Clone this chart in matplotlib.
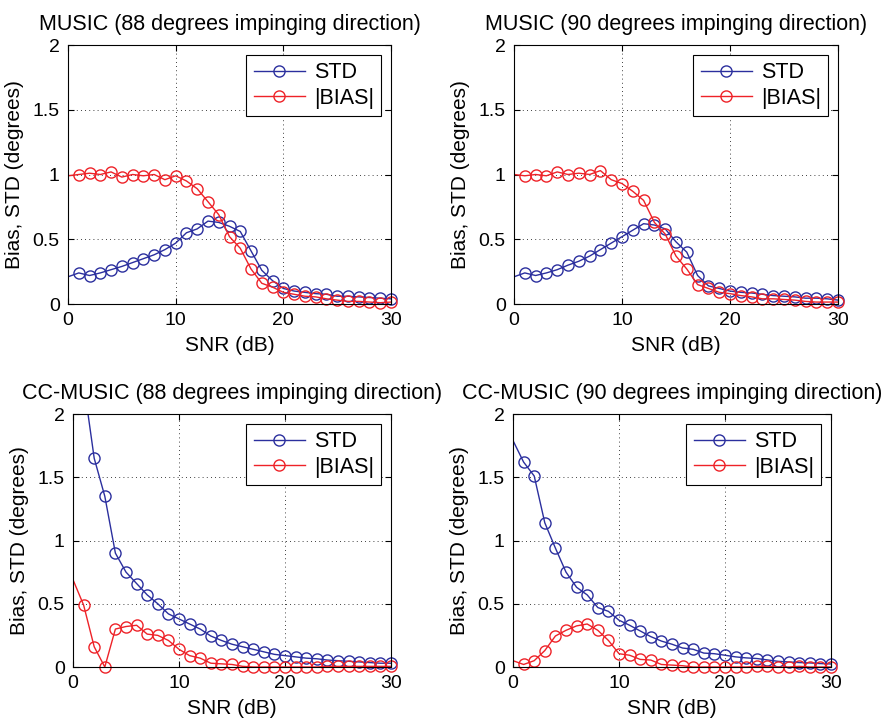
import matplotlib
matplotlib.use("Agg")
import matplotlib.pyplot as plt
import numpy as np

plt.rcParams['font.family'] = ['Liberation Sans', 'DejaVu Sans']

snr = list(range(0, 31))

titles = ["MUSIC (88 degrees impinging direction)",
          "MUSIC (90 degrees impinging direction)",
          "CC-MUSIC (88 degrees impinging direction)",
          "CC-MUSIC (90 degrees impinging direction)"]

std_music88 = [0.21, 0.24, 0.22, 0.24, 0.265, 0.29, 0.32, 0.35, 0.38, 0.42, 0.47,
               0.55, 0.58, 0.64, 0.63, 0.60, 0.56, 0.41, 0.26, 0.18, 0.12,
               0.10, 0.09, 0.08, 0.075, 0.06, 0.06, 0.055, 0.05, 0.045, 0.04]
bias_music88 = [0.99, 1.0, 1.01, 1.0, 1.02, 0.98, 1.0, 0.99, 1.0, 0.96, 0.99,
                0.95, 0.89, 0.79, 0.69, 0.52, 0.43, 0.27, 0.16, 0.13, 0.09,
                0.075, 0.06, 0.055, 0.04, 0.03, 0.02, 0.02, 0.015, 0.01, 0.015]

std_music90 = [0.21, 0.24, 0.22, 0.24, 0.265, 0.30, 0.33, 0.37, 0.42, 0.47, 0.52,
               0.57, 0.62, 0.61, 0.58, 0.48, 0.40, 0.22, 0.14, 0.12, 0.10,
               0.09, 0.085, 0.075, 0.065, 0.06, 0.055, 0.045, 0.045, 0.04, 0.03]
bias_music90 = [1.0, 0.99, 1.0, 0.99, 1.02, 1.0, 1.01, 1.0, 1.03, 0.96, 0.93,
                0.87, 0.80, 0.63, 0.54, 0.37, 0.27, 0.15, 0.12, 0.09, 0.08,
                0.065, 0.055, 0.04, 0.04, 0.035, 0.03, 0.02, 0.015, 0.015, 0.015]

std_cc88 = [2.8, 2.25, 1.65, 1.35, 0.90, 0.75, 0.66, 0.57, 0.50, 0.42, 0.38,
            0.34, 0.30, 0.245, 0.21, 0.18, 0.16, 0.14, 0.12, 0.10, 0.09,
            0.08, 0.07, 0.065, 0.055, 0.05, 0.045, 0.04, 0.035, 0.03, 0.03]
bias_cc88 = [0.69, 0.49, 0.16, 0.0, 0.30, 0.32, 0.33, 0.26, 0.25, 0.21, 0.14,
             0.09, 0.07, 0.03, 0.025, 0.02, 0.005, 0.0, 0.0, 0.0, 0.0,
             0.0, 0.0, 0.0, 0.005, 0.005, 0.005, 0.005, 0.005, 0.005, 0.005]

std_cc90 = [1.79, 1.62, 1.51, 1.14, 0.94, 0.75, 0.63, 0.57, 0.47, 0.44, 0.37,
            0.33, 0.285, 0.24, 0.205, 0.18, 0.15, 0.14, 0.11, 0.105, 0.093,
            0.08, 0.072, 0.067, 0.056, 0.045, 0.04, 0.035, 0.032, 0.027, 0.024]
bias_cc90 = [0.05, 0.02, 0.05, 0.13, 0.245, 0.29, 0.325, 0.34, 0.29, 0.21, 0.105,
             0.093, 0.06, 0.055, 0.02, 0.015, 0.01, 0.0, 0.0, 0.0, 0.0,
             0.0, 0.0, 0.005, 0.005, 0.0, 0.0, 0.005, 0.0, 0.0, 0.0]

series = [(std_music88, bias_music88), (std_music90, bias_music90),
          (std_cc88, bias_cc88), (std_cc90, bias_cc90)]

W, H = 886, 720
fig = plt.figure(figsize=(W / 100, H / 100), dpi=100)

# axes boxes in pixels: left, right, top, bottom
boxes = [(68, 391, 45, 304), (514, 838, 45, 304),
         (73, 391, 414, 667), (513, 831, 414, 667)]

BLUE = '#2b2f9e'
RED = '#ee2228'
YMIN, YMAX = 0, 2


def draw(ax, x, y, color, label):
    x = np.asarray(x)
    y = np.asarray(y)
    ax.plot(x, y, '-', color=color, lw=1.0, clip_on=True)
    keep = (x > 0) & (y <= YMAX)
    ax.plot(x[keep], y[keep], 'o', color=color, ms=8, mfc='none', mew=1.0,
            clip_on=False)
    # proxy for legend
    ax.plot([], [], '-o', color=color, lw=1.0, ms=8, mfc='none', mew=1.0,
            label=label)


for (l, r, t, b), title, (s, bi) in zip(boxes, titles, series):
    ax = fig.add_axes([l / W, 1 - b / H, (r - l) / W, (b - t) / H])
    draw(ax, snr, s, BLUE, 'STD')
    draw(ax, snr, bi, RED, '|BIAS|')
    ax.set_xlim(0, 30)
    ax.set_ylim(YMIN, YMAX)
    ax.set_xticks([0, 10, 20, 30])
    ax.set_yticks([0, 0.5, 1, 1.5, 2])
    ax.set_yticklabels(['0', '0.5', '1', '1.5', '2'])
    ax.grid(True, linestyle=(0, (1, 4)), color='black', lw=0.6)
    ax.tick_params(direction='in', labelsize=14, length=4, top=True, right=True,
                   pad=6)
    for sp in ax.spines.values():
        sp.set_linewidth(0.8)
    ax.set_xlabel('SNR (dB)', fontsize=15, labelpad=5)
    ax.set_ylabel('Bias, STD (degrees)', fontsize=15, labelpad=6)
    ax.set_title(title, fontsize=15.5, pad=11)
    leg = ax.legend(loc='upper right', fontsize=15.5, handlelength=2.4,
                    fancybox=False, framealpha=1, edgecolor='black',
                    borderaxespad=0.45, borderpad=0.35, handletextpad=0.4,
                    labelspacing=0.2)
    leg.get_frame().set_linewidth(0.8)

fig.savefig('out.png', dpi=100, facecolor='white')
